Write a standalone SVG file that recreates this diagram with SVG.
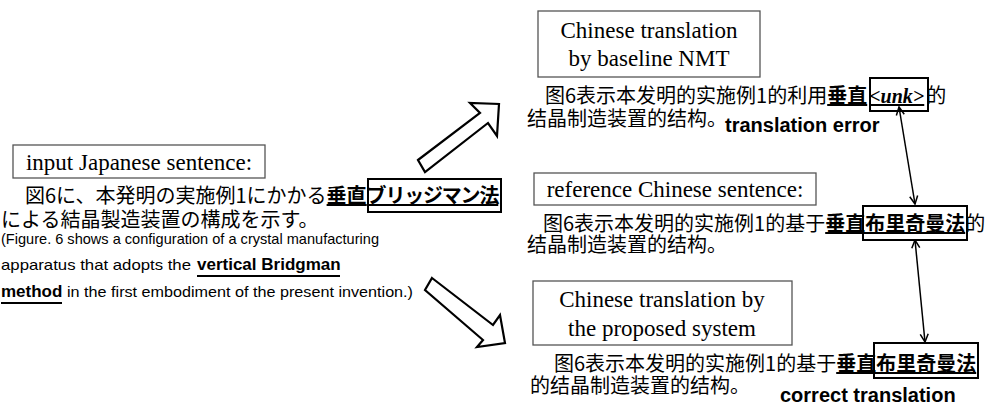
<svg xmlns="http://www.w3.org/2000/svg" width="986" height="406" viewBox="0 0 986 406">
<style>
.lbl{fill:#fff;stroke:#555;stroke-width:1.3}
.hl{fill:none;stroke:#000;stroke-width:2}
.tm{font-family:"Liberation Serif","Times New Roman",serif;font-size:23px;fill:#000;text-anchor:middle}
.zh{font-family:"Noto Sans CJK SC","Noto Sans",sans-serif;font-size:20px;fill:#000}
.ja{font-family:"Noto Sans CJK JP","Noto Sans",sans-serif;font-size:20px;fill:#000}
.en{font-family:"Liberation Sans",Arial,sans-serif;font-size:15px;fill:#000}
.eb{font-family:"Liberation Sans",Arial,sans-serif;font-size:17px;font-weight:bold;fill:#000}
.bd{font-weight:bold}
.u{text-decoration:underline}
.tag{font-family:"Liberation Sans",Arial,sans-serif;font-size:20px;font-weight:bold;fill:#000}
.blk{fill:#fff;stroke:#000;stroke-width:2.2;stroke-linejoin:miter}
.thin{stroke:#000;stroke-width:1.5;fill:none}
.ul{stroke:#000;stroke-width:1.8}
</style>
<defs>
<marker id="ah" viewBox="0 0 10 10" refX="9" refY="5" markerWidth="10" markerHeight="10" markerUnits="userSpaceOnUse" orient="auto-start-reverse">
<path d="M1,1 L9,5 L1,9" fill="none" stroke="#000" stroke-width="1.5"/>
</marker>
</defs>

<g id="input-node">
<rect class="lbl" x="13" y="145" width="252" height="33"/>
<text class="tm" x="139" y="170">input Japanese sentence:</text>
<text class="ja" x="25" y="203">図6に、本発明の実施例1にかかる<tspan class="bd u">垂直</tspan><tspan class="bd u" letter-spacing="-1.2">ブリッジマン法</tspan></text>
<rect class="hl" x="368" y="179" width="133" height="33"/>
<text class="ja" x="1" y="227">による結晶製造装置の構成を示す。</text>
<text class="en" x="1" y="244" textLength="378" lengthAdjust="spacingAndGlyphs">(Figure. 6 shows a configuration of a crystal manufacturing</text>
<text class="en" x="1" y="270" textLength="190" lengthAdjust="spacingAndGlyphs">apparatus that adopts the</text>
<text class="eb" x="197" y="270">vertical Bridgman</text>
<line class="ul" x1="197" y1="276" x2="340" y2="276"/>
<text class="eb" x="1" y="297">method</text>
<line class="ul" x1="1" y1="303" x2="62" y2="303"/>
<text class="en" x="67" y="297" textLength="346" lengthAdjust="spacingAndGlyphs">in the first embodiment of the present invention.)</text>
</g>

<g id="nmt-node">
<rect class="lbl" x="538" y="11" width="222" height="66"/>
<text class="tm" x="649" y="38">Chinese translation</text>
<text class="tm" x="649" y="66">by baseline NMT</text>
<text class="zh" x="545" y="103">图6表示本发明的实施例1的利用<tspan class="bd u">垂直</tspan><tspan class="u" dx="2" font-family="Liberation Serif" font-style="italic" font-weight="bold">&lt;unk&gt;</tspan><tspan dx="2">的</tspan></text>
<rect class="hl" x="870" y="78" width="58" height="33"/>
<text class="zh" x="527" y="126">结晶制造装置的结构。</text>
<text class="tag" x="725" y="132">translation error</text>
</g>

<g id="reference-node">
<rect class="lbl" x="534" y="173" width="282" height="32"/>
<text class="tm" x="675" y="197">reference Chinese sentence:</text>
<text class="zh" x="543" y="231">图6表示本发明的实施例1的基于<tspan class="bd u">垂直布里奇曼法</tspan>的</text>
<rect class="hl" x="863" y="206" width="104" height="34"/>
<text class="zh" x="527" y="252">结晶制造装置的结构。</text>
</g>

<g id="proposed-node">
<rect class="lbl" x="533" y="281" width="259" height="64"/>
<text class="tm" x="662" y="307">Chinese translation by</text>
<text class="tm" x="662" y="336">the proposed system</text>
<text class="zh" x="554" y="371">图6表示本发明的实施例1的基于<tspan class="bd u">垂直布里奇曼法</tspan></text>
<rect class="hl" x="874" y="343" width="104" height="35"/>
<text class="zh" x="530" y="393">的结晶制造装置的结构。</text>
<text class="tag" x="780" y="402">correct translation</text>
</g>

<g id="connectors">
<polygon class="blk" points="418,160 480,113 470,103 499,104 497,136 488,123 425,172"/>
<polygon class="blk" points="432,278 493,325 500,315 505,343 477,347 483,340 425,290"/>
<line class="thin" x1="899" y1="107" x2="915" y2="204" marker-start="url(#ah)" marker-end="url(#ah)"/>
<line class="thin" x1="915" y1="240" x2="925" y2="342" marker-start="url(#ah)" marker-end="url(#ah)"/>
</g>
</svg>
